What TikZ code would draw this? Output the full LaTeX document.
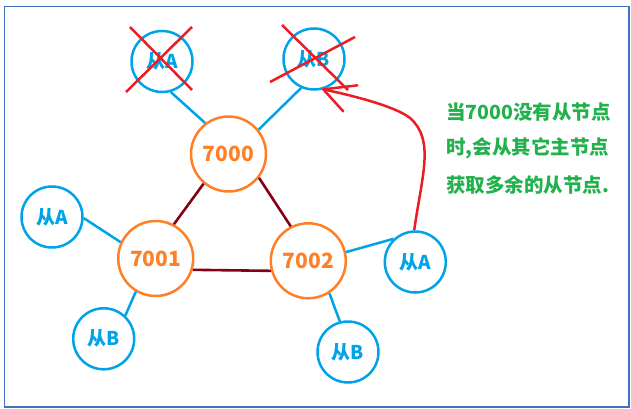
\documentclass[tikz,border=0pt]{standalone}
\usepackage{fontspec}
\newfontfamily\cjk{Noto Sans CJK SC}
\usetikzlibrary{calc}
\definecolor{pblue}{HTML}{00A2E8}
\definecolor{porange}{HTML}{FF7F27}
\definecolor{pdred}{HTML}{880015}
\definecolor{pred}{HTML}{ED1C24}
\definecolor{pgreen}{HTML}{22B14C}
\definecolor{pframe}{RGB}{65,113,190}
\tikzset{
  master/.style={circle,draw=porange,line width=2.5pt,minimum size=75pt,inner sep=0pt,
    text=porange,font=\cjk\bfseries\fontsize{21}{21}\selectfont},
  slave/.style={circle,draw=pblue,line width=2.5pt,minimum size=61pt,inner sep=0pt,
    text=pblue,font=\cjk\bfseries\fontsize{19}{19}\selectfont},
  mlink/.style={draw=pdred,line width=2.6pt},
  slink/.style={draw=pblue,line width=2.5pt},
  cross/.style={draw=pred,line width=2.5pt},
  note/.style={anchor=west,inner sep=0pt,text=pgreen,font=\cjk\bfseries\fontsize{19.5}{19.5}\selectfont}
}
\begin{document}
\begin{tikzpicture}[x=1pt,y=-1pt]
\useasboundingbox (0,0) rectangle (631,409);
\draw[pframe,line width=1.5pt] (4.5,6.5) rectangle (629,407);

\node[master] (N0) at (228.5,154) {7000};
\node[master] (N1) at (155.7,258.5) {7001};
\node[master] (N2) at (308.3,260.8) {7002};

\node[slave] (XA) at (162,61.5) {从A};
\node[slave] (XB) at (314,59) {从B};
\node[slave] (LA) at (52,217) {从A};
\node[slave] (LB) at (103.7,338.8) {从B};
\node[slave] (RA) at (415.3,262) {从A};
\node[slave] (RB) at (348,352) {从B};

\draw[mlink] (N0.-130) -- (N1.62);
\draw[mlink] (N0.-38) -- (N2.117);
\draw[mlink] (N1.-17.7) -- (N2.195.8);

\draw[slink] (XA.-74) -- (N0.127);
\draw[slink] (XB.-114.5) -- (N0.39);
\draw[slink] (LA.-2.4) -- (N1.155);
\draw[slink] (N1.-121.7) -- (LB.47);
\draw[slink] (N2.13.4) -- (RA.133.6);
\draw[slink] (N2.-57) -- (RB.105.6);

\draw[cross] ($(XA)+(-32,-34.5)$) -- ($(XA)+(30,28.5)$);
\draw[cross] ($(XA)+(30,-34.5)$) -- ($(XA)+(-36,30.5)$);
\draw[cross] ($(XB)+(-32,-34)$) -- ($(XB)+(34,31)$);
\draw[cross] ($(XB)+(41,-22)$) -- ($(XB)+(-44,23)$);

\coordinate (tip) at (XB.-73);
\draw[pred,line width=2.5pt] (RA.92) .. controls (422,175) and (435,140) .. (410,118)
  .. controls (395,106) and (350,95) .. (tip);
\draw[pred,line width=2.5pt,line cap=round] (tip) -- ++(34,-4);
\draw[pred,line width=2.5pt,line cap=round] (tip) -- ++(20,22);

\node[note] (t1) at (446,112) {当7000没有从节点};
\node[note] (t2) at (446,148.5) {时,会从其它主节点};
\node[note] (t3) at (446,185) {获取多余的从节点.};
\end{tikzpicture}
\end{document}
